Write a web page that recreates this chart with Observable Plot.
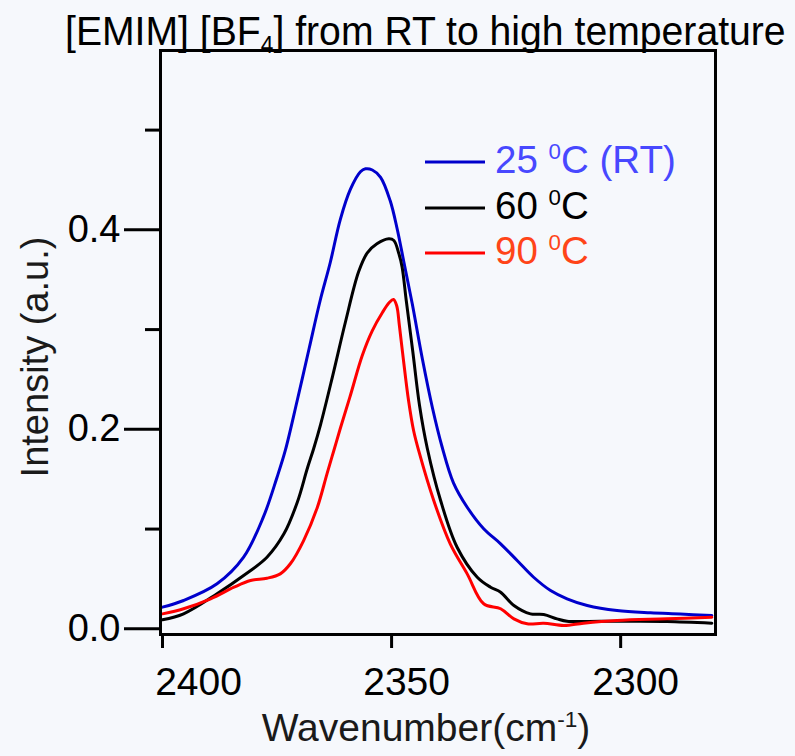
<!DOCTYPE html>
<html>
<head>
<meta charset="utf-8">
<script src="https://cdn.jsdelivr.net/npm/d3@7"></script>
<script src="https://cdn.jsdelivr.net/npm/@observablehq/plot@0.6"></script>
<style>
  html, body { margin: 0; padding: 0; background: #f6f8fc; }
  #chart { width: 795px; height: 756px; }
  svg { font-family: "Liberation Sans", Arial, Helvetica, sans-serif; }
</style>
</head>
<body>
<div id="chart"></div>
<script>
// ---- data ----
const rtWavenumber = [2400.0, 2395.4, 2388.1, 2382.3, 2378.0, 2375.0, 2373.2, 2370.6, 2368.0, 2365.6, 2363.4, 2361.2, 2359.0, 2356.8, 2355.7, 2354.2, 2352.4, 2350.3, 2348.8, 2347.3, 2345.5, 2343.3, 2341.1, 2339.0, 2336.5, 2333.5, 2329.9, 2326.2, 2322.6, 2319.0, 2315.3, 2311.7, 2307.3, 2300.8, 2293.5, 2287.0, 2280.1];
const rtIntensity  = [0.0217, 0.0284, 0.0451, 0.0718, 0.1119, 0.1520, 0.1788, 0.2289, 0.2810, 0.3289, 0.3670, 0.4103, 0.4405, 0.4582, 0.4612, 0.4600, 0.4527, 0.4291, 0.4013, 0.3672, 0.3261, 0.2710, 0.2219, 0.1828, 0.1464, 0.1219, 0.1003, 0.0852, 0.0685, 0.0517, 0.0384, 0.0301, 0.0234, 0.0183, 0.0160, 0.0148, 0.0133];

const t60Wavenumber = [2400.0, 2395.4, 2388.1, 2382.3, 2377.2, 2373.5, 2370.6, 2368.4, 2367.0, 2365.5, 2362.9, 2360.1, 2357.2, 2355.3, 2353.2, 2350.6, 2349.5, 2348.4, 2347.7, 2346.8, 2345.4, 2343.9, 2342.2, 2339.3, 2335.7, 2331.3, 2328.4, 2326.2, 2323.3, 2319.7, 2316.8, 2313.9, 2311.7, 2304.4, 2297.2, 2289.9, 2280.1];
const t60Intensity  = [0.0090, 0.0150, 0.0351, 0.0534, 0.0718, 0.0952, 0.1266, 0.1607, 0.1808, 0.2048, 0.2529, 0.3071, 0.3579, 0.3769, 0.3860, 0.3910, 0.3893, 0.3759, 0.3625, 0.3291, 0.2790, 0.2239, 0.1808, 0.1286, 0.0818, 0.0517, 0.0417, 0.0367, 0.0234, 0.0150, 0.0143, 0.0100, 0.0076, 0.0076, 0.0076, 0.0073, 0.0056];

const t90Wavenumber = [2400.0, 2395.4, 2389.5, 2384.4, 2380.8, 2377.2, 2374.3, 2372.1, 2369.2, 2366.2, 2364.1, 2362.6, 2361.2, 2359.0, 2356.4, 2354.2, 2352.0, 2350.5, 2349.6, 2348.9, 2348.3, 2347.4, 2346.3, 2345.2, 2344.1, 2340.8, 2337.2, 2333.5, 2329.9, 2326.2, 2323.3, 2320.4, 2316.8, 2312.4, 2308.1, 2300.8, 2289.9, 2280.1];
const t90Intensity  = [0.0150, 0.0201, 0.0301, 0.0417, 0.0484, 0.0507, 0.0551, 0.0652, 0.0885, 0.1219, 0.1554, 0.1788, 0.2008, 0.2339, 0.2740, 0.2990, 0.3171, 0.3271, 0.3301, 0.3241, 0.3041, 0.2690, 0.2289, 0.1988, 0.1788, 0.1286, 0.0852, 0.0551, 0.0251, 0.0201, 0.0100, 0.0050, 0.0056, 0.0033, 0.0056, 0.0083, 0.0100, 0.0116];

const seriesNames   = ["25 °C (RT)", "60 °C", "90 °C"];
const lineColors    = ["#0000cc", "#000000", "#ff0000"];
const legendColors  = ["#4848ff", "#000000", "#ff4418"];
const legendMain    = [["25 ", "C (RT)"], ["60 ", "C"], ["90 ", "C"]];
const xTicks        = [2400, 2350, 2300];
const yMajorTicks   = [0, 0.2, 0.4];
const yMinorTicks   = [0.1, 0.3, 0.5];
const xDomain       = [2400.44, 2279.3];
const yDomain       = [-0.0057, 0.5798];

const toRows = (xs, ys, name) => xs.map((x, i) => ({wn: x, val: ys[i], series: name}));
const rtRows  = toRows(rtWavenumber, rtIntensity, seriesNames[0]);
const t60Rows = toRows(t60Wavenumber, t60Intensity, seriesNames[1]);
const t90Rows = toRows(t90Wavenumber, t90Intensity, seriesNames[2]);

const FONT = 38;

const plot = Plot.plot({
  width: 795,
  height: 756,
  marginLeft: 160,
  marginRight: 80,
  marginTop: 50,
  marginBottom: 122,
  style: {background: "#f6f8fc", fontFamily: '"Liberation Sans", Arial, Helvetica, sans-serif', overflow: "visible"},
  x: {domain: xDomain},
  y: {domain: yDomain},
  marks: [
    Plot.axisY({ticks: yMajorTicks, tickSize: 36, tickPadding: 4, tickFormat: d3.format(".1f"), fontSize: FONT, strokeWidth: 3, label: null, color: "#000"}),
    Plot.axisY({ticks: yMinorTicks, tickSize: 15, fill: "none", strokeWidth: 3, label: null}),
    Plot.axisX({ticks: xTicks, tickSize: 14, fill: "none", strokeWidth: 3, label: null}),
    Plot.axisX({ticks: xTicks.slice(1), tickSize: 14, tickPadding: 19, tickFormat: d3.format("d"), stroke: "none", dx: 15, fontSize: FONT + 1, label: null, fill: "#000"}),
    Plot.axisX({ticks: xTicks.slice(0, 1), tickSize: 14, tickPadding: 19, tickFormat: d3.format("d"), stroke: "none", dx: 36, fontSize: FONT + 1, label: null, fill: "#000"}),
    Plot.line(rtRows,  {x: "wn", y: "val", stroke: lineColors[0], strokeWidth: 3, curve: "catmull-rom"}),
    Plot.line(t60Rows, {x: "wn", y: "val", stroke: lineColors[1], strokeWidth: 3, curve: "catmull-rom"}),
    Plot.line(t90Rows, {x: "wn", y: "val", stroke: lineColors[2], strokeWidth: 3, curve: "catmull-rom"}),
    Plot.frame({stroke: "#000", strokeWidth: 3})
  ]
});

document.getElementById("chart").appendChild(plot);

// ---- text with sub/superscripts (title, axis labels, legend) ----
const svg = d3.select(plot);
function richText(x, y, parts, {anchor = "start", size = FONT, fill = "#000", rotate = 0, fitWidth = null} = {}) {
  const t = svg.append("text")
    .attr("text-anchor", anchor)
    .attr("font-size", size)
    .attr("fill", fill)
    .attr("transform", `translate(${x},${y}) rotate(${rotate})`);
  let shift = 0;
  for (const p of parts) {
    const s = t.append("tspan").text(p.t);
    if (p.sup) { s.attr("font-size", size * 0.58).attr("dy", -size * 0.36 - shift); shift = -size * 0.36; }
    else if (p.sub) { s.attr("font-size", size * 0.58).attr("dy", size * 0.2 - shift); shift = size * 0.2; }
    else { if (shift) s.attr("dy", -shift); shift = 0; }
  }
  if (fitWidth) {
    const w = t.node().getBBox().width;
    if (w > 0) t.attr("transform", `translate(${x},${y}) scale(${fitWidth / w},1)`);
  }
  return t;
}

// title
richText(65, 45, [{t: "[EMIM] [BF"}, {t: "4", sub: true}, {t: "] from RT to high temperature"}], {size: 41, fitWidth: 721});
// x label
richText(426, 741, [{t: "Wavenumber(cm"}, {t: "-1", sup: true}, {t: ")"}], {anchor: "middle", fill: "#1a1a1a", size: 39});
// y label
richText(48, 357, [{t: "Intensity (a.u.)"}], {anchor: "middle", fill: "#1a1a1a", rotate: -90});

// legend
const legendY = [162, 208, 253];
legendMain.forEach((m, i) => {
  svg.append("line").attr("x1", 425).attr("x2", 485).attr("y1", legendY[i]).attr("y2", legendY[i])
    .attr("stroke", lineColors[i]).attr("stroke-width", 3);
  richText(495, legendY[i] + 11, [{t: m[0]}, {t: "0", sup: true}, {t: m[1]}], {fill: legendColors[i], size: 38.5});
});
</script>
</body>
</html>
